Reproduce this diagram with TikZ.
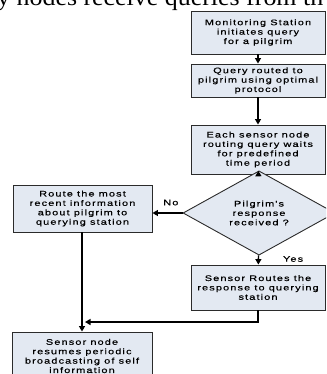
\documentclass[tikz,border=0pt]{standalone}
\usepackage{fontspec}
\setmainfont{Liberation Serif}
\newfontfamily\chartfont[FakeStretch=1.35,LetterSpace=14,FakeBold=0.4]{Liberation Sans}
\usetikzlibrary{arrows.meta,shapes.geometric}
\definecolor{boxfill}{HTML}{E3E9F2}
\definecolor{boxline}{HTML}{2B2B2B}
\tikzset{
  stepbox/.style={draw=boxline, fill=boxfill, line width=0.9pt, align=center,
    inner sep=0pt, font=\chartfont\fontsize{8.1}{9.4}\selectfont},
  askbox/.style={stepbox, shape=diamond},
  flow/.style={line width=1.3pt, -{Triangle[length=5.5pt,width=6pt]}},
  lbl/.style={font=\chartfont\fontsize{8.1}{9.4}\selectfont, inner sep=0pt}
}

\begin{document}
\begin{tikzpicture}[x=1pt,y=-1pt]
  \useasboundingbox (0,0) rectangle (326,374);
  \clip (0,0) rectangle (326,374);
  % cut line of the page text above the chart
  \node[anchor=base west, inner sep=0pt, font=\fontsize{24}{24}\selectfont] (header) at (-3,6) {\scalebox{1.08}[1]{y nodes receive queries from th}};

  % right column
  \node[stepbox, minimum width=134pt, minimum height=43pt] (monitor) at (258,32.5) {Monitoring Station\\initiates query\\for a pilgrim};
  \node[stepbox, minimum width=134pt, minimum height=33pt] (routed) at (258,80.5) {Query routed to\\pilgrim using optimal\\protocol};
  \node[stepbox, minimum width=134pt, minimum height=49pt] (wait) at (258,149.5) {Each sensor node\\routing query waits\\for predefined\\time period};
  \node[askbox, minimum width=152pt, minimum height=64pt] (answer) at (259,213) {Pilgrim's\\response\\received ?};
  \node[stepbox, minimum width=134pt, minimum height=45pt] (reply) at (258,287.5) {Sensor Routes the\\response to querying\\station};

  % left column
  \node[stepbox, minimum width=139pt, minimum height=47pt] (recent) at (82.5,208.5) {Route the most\\recent information\\about pilgrim to\\querying station};
  \node[stepbox, minimum width=140pt, minimum height=48pt] (resume) at (82,356) {Sensor node\\resumes periodic\\broadcasting of self\\information};

  \coordinate (turn) at (258,322);
  \coordinate (join) at (82,322);

  \draw[flow] (monitor) -- (routed);
  \draw[flow] (routed) -- (wait);
  \draw[flow] (wait) -- (answer);
  \draw[flow] (answer.west) -- (recent.east |- answer.west) node[lbl, pos=0.39, above=7pt] (no) {No};
  \draw[flow] (answer) -- (reply) node[lbl, pos=0.4, right=24pt] (yes) {Yes};
  \draw[flow] (reply.south) -- (turn) -- ([xshift=3pt]join);
  \draw[flow] (recent.south -| resume.north) -- (resume.north);
\end{tikzpicture}
\end{document}
